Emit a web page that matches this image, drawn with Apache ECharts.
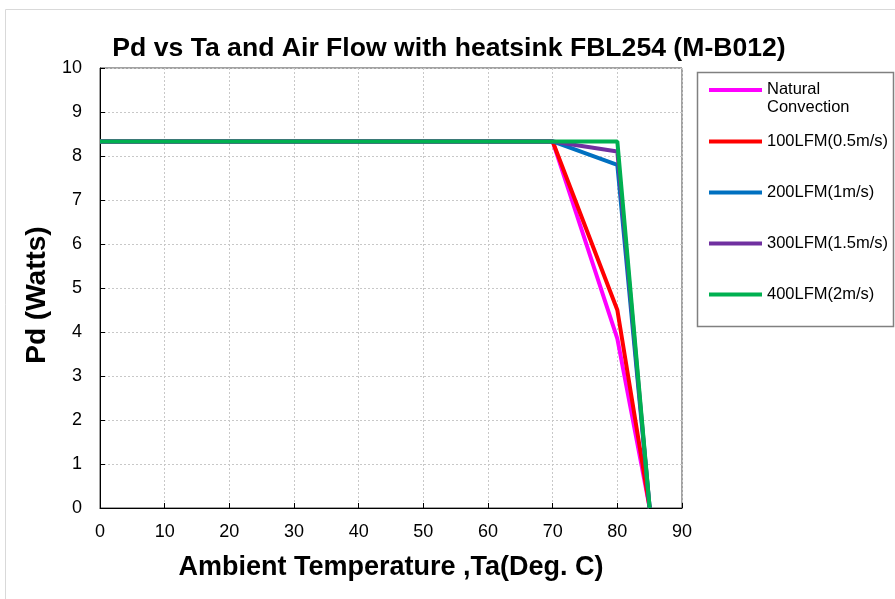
<!DOCTYPE html>
<html><head><meta charset="utf-8">
<script src="https://cdn.jsdelivr.net/npm/echarts@6/dist/echarts.min.js"></script>
<style>html,body{margin:0;padding:0;background:#fff}#c{width:895px;height:599px}</style>
</head><body><div id="c"></div>
<script>
var ta = [0, 70, 80, 85];
var natural = [8.33, 8.33, 3.85, 0];
var lfm100 = [8.33, 8.33, 4.5, 0];
var lfm200 = [8.33, 8.33, 7.8, 0];
var lfm300 = [8.33, 8.33, 8.1, 0];
var lfm400 = [8.33, 8.33, 8.33, 0];
var names = ['Natural Convection', '100LFM(0.5m/s)', '200LFM(1m/s)', '300LFM(1.5m/s)', '400LFM(2m/s)'];
var colors = ['#FF00FF', '#FF0000', '#0070C0', '#7030A0', '#00B050'];
var values = [natural, lfm100, lfm200, lfm300, lfm400];
var xTicks = [0, 10, 20, 30, 40, 50, 60, 70, 80, 90];
var yTicks = [0, 1, 2, 3, 4, 5, 6, 7, 8, 9, 10];

var FONT = '"Liberation Sans", Arial, sans-serif';
var chart = echarts.init(document.getElementById('c'));
var series = values.map(function (v, i) {
  return {
    name: names[i], type: 'line', symbol: 'none',
    data: ta.map(function (t, j) { return [t, v[j]]; }),
    lineStyle: { color: colors[i], width: 4 },
    itemStyle: { color: colors[i] },
    z: 2 + i
  };
});
chart.setOption({
  animation: false,
  title: {
    text: 'Pd vs Ta and Air Flow with heatsink FBL254 (M-B012)',
    left: 444, top: 30, textAlign: 'center',
    textStyle: { fontFamily: FONT, fontSize: 26.6, fontWeight: 'bold', color: '#000' }
  },
  graphic: [
    { type: 'rect', shape: { x: 5.5, y: 9.5, width: 1000, height: 1000 }, style: { fill: 'none', stroke: '#d9d9d9', lineWidth: 1 }, silent: true },
    { type: 'rect', shape: { x: 697.5, y: 72.5, width: 196, height: 254 }, style: { fill: '#fff', stroke: '#808080', lineWidth: 1.5 }, z: -1, silent: true }
  ],
  legend: {
    orient: 'vertical', left: 709, top: 64, padding: 0, itemGap: 0,
    icon: 'rect', itemWidth: 53, itemHeight: 4,
    data: names,
    formatter: function (n) {
      if (n === 'Natural Convection') return '{f|Natural\nConvection}';
      return '{s|' + n + '}';
    },
    textStyle: {
      fontFamily: FONT, fontSize: 16.5, color: '#000',
      rich: {
        f: { fontFamily: FONT, fontSize: 16.5, lineHeight: 18, color: '#000', padding: [17, 0, 0, 0] },
        s: { fontFamily: FONT, fontSize: 16.5, lineHeight: 18, color: '#000', padding: [17, 0, 17, 0] }
      }
    }
  },
  grid: { left: 100, top: 68, right: 213, bottom: 91, show: true, borderColor: '#444', borderWidth: 1, backgroundColor: '#fff' },
  xAxis: {
    type: 'value', min: xTicks[0], max: xTicks[xTicks.length - 1], interval: 10,
    name: 'Ambient Temperature ,Ta(Deg. C)', nameLocation: 'middle', nameGap: 46,
    nameTextStyle: { fontFamily: FONT, fontSize: 27, fontWeight: 'bold', color: '#000' },
    axisLine: { show: true, lineStyle: { color: '#000', width: 1 } },
    axisTick: { show: true, inside: true, length: 5, lineStyle: { color: '#000' } },
    axisLabel: { fontFamily: FONT, fontSize: 18, color: '#000', margin: 15 },
    splitLine: { show: true, lineStyle: { color: '#c8c8c8', type: [2, 2], width: 1 } }
  },
  yAxis: {
    type: 'value', min: yTicks[0], max: yTicks[yTicks.length - 1], interval: 1,
    name: 'Pd (Watts)', nameLocation: 'middle', nameGap: 43,
    nameTextStyle: { fontFamily: FONT, fontSize: 28, fontWeight: 'bold', color: '#000', padding: [0, 14, 0, 0] },
    axisLine: { show: true, lineStyle: { color: '#000', width: 1 } },
    axisTick: { show: true, inside: true, length: 5, lineStyle: { color: '#000' } },
    axisLabel: { fontFamily: FONT, fontSize: 18, color: '#000', margin: 18 },
    splitLine: { show: true, lineStyle: { color: '#c8c8c8', type: [2, 2], width: 1 } }
  },
  series: series
});
</script></body></html>
